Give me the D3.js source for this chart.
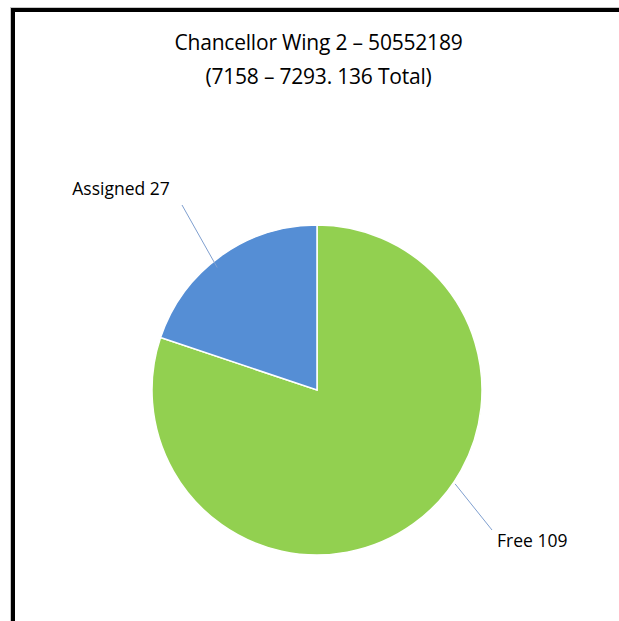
<!DOCTYPE html>
<html>
<head>
<meta charset="utf-8">
<script src="https://cdn.jsdelivr.net/npm/d3@7"></script>
<style>
  html, body { margin: 0; padding: 0; background: #fff; }
  svg text { font-family: "Open Sans", "Noto Sans", sans-serif; fill: #000; }
</style>
</head>
<body>
<div id="chart"></div>
<script>
// data
var categories = ["Free", "Assigned"];
var values = [109, 27];
var sliceColors = ["#92D050", "#558ED5"];
var titleLines = ["Chancellor Wing 2 \u2013 50552189", "(7158 \u2013 7293. 136 Total)"];

var width = 619, height = 621;
var cx = 317, cy = 390, radius = 165;

var svg = d3.select("#chart").append("svg")
  .attr("width", width).attr("height", height);

svg.append("rect").attr("width", width).attr("height", height).attr("fill", "#fff");

// chart frame (runs off the right and bottom of the picture)
svg.append("rect")
  .attr("x", 10.5).attr("y", 7.5).attr("width", 800).attr("height", 800)
  .attr("fill", "none").attr("stroke", "#c8c8c8").attr("stroke-width", 1);
svg.append("rect")
  .attr("x", 13).attr("y", 10).attr("width", 800).attr("height", 800)
  .attr("fill", "#fff").attr("stroke", "#000").attr("stroke-width", 4);

// title
svg.append("g").selectAll("text").data(titleLines).enter().append("text")
  .attr("x", 318.5)
  .attr("y", function(d, i) { return 50 + i * 34; })
  .attr("text-anchor", "middle")
  .attr("font-size", 21)
  .attr("letter-spacing", -0.2)
  .text(function(d) { return d; });

var data = categories.map(function(c, i) { return { name: c, value: values[i], color: sliceColors[i] }; });

var pie = d3.pie().sort(null).value(function(d) { return d.value; });
var arc = d3.arc().innerRadius(0).outerRadius(radius);
var arcs = pie(data);

var g = svg.append("g").attr("transform", "translate(" + cx + "," + cy + ")");

g.selectAll("path").data(arcs).enter().append("path")
  .attr("d", arc)
  .attr("fill", function(d) { return d.data.color; })
  .attr("stroke", "#fff")
  .attr("stroke-width", 1.5);

// labels: anchor angle on the rim (from midangle, nudged), label offset
var labelCfg = {
  Free: { angleShift: -0.35, r0: 167, lineTo: [175, 140], text: [180, 157], anchor: "start" },
  Assigned: { angleShift: -0.06, r0: 158, lineTo: [-135, -185], text: [-196, -195], anchor: "middle" }
};

arcs.forEach(function(a) {
  var cfg = labelCfg[a.data.name];
  var mid = (a.startAngle + a.endAngle) / 2 + cfg.angleShift;
  var x0 = Math.sin(mid) * cfg.r0, y0 = -Math.cos(mid) * cfg.r0;
  g.append("line")
    .attr("x1", x0).attr("y1", y0)
    .attr("x2", cfg.lineTo[0]).attr("y2", cfg.lineTo[1])
    .attr("stroke", "#7f9fcf").attr("stroke-width", 1);
  g.append("text")
    .attr("x", cfg.text[0]).attr("y", cfg.text[1])
    .attr("text-anchor", cfg.anchor)
    .attr("font-size", 17.5)
    .text(a.data.name + " " + a.data.value);
});
</script>
</body>
</html>
